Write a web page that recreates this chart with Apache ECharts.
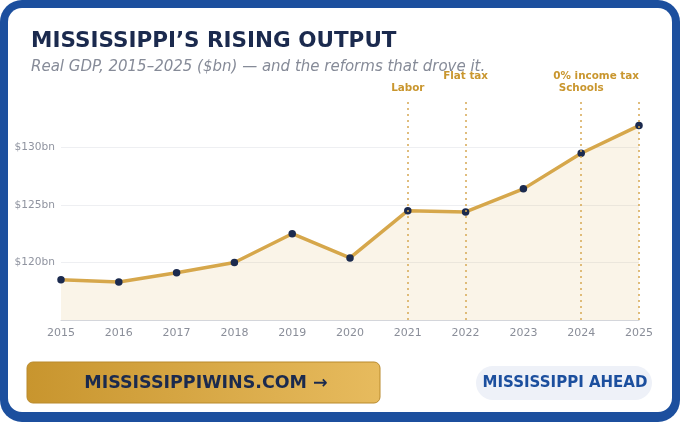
<!DOCTYPE html>
<html>
<head>
<meta charset="utf-8">
<script src="https://cdn.jsdelivr.net/npm/echarts@6/dist/echarts.min.js"></script>
<style>
html, body { margin: 0; padding: 0; background: #fff; }
#main { width: 680px; height: 422px; }
</style>
</head>
<body>
<div id="main"></div>
<script>
var years = ['2015', '2016', '2017', '2018', '2019', '2020', '2021', '2022', '2023', '2024', '2025'];
var gdp = [118.5, 118.3, 119.1, 120.0, 122.5, 120.4, 124.5, 124.4, 126.4, 129.5, 131.9];
var reformYears = ['2021', '2022', '2024', '2025'];
var reformNames = ['Labor', 'Flat tax', 'Schools', '0% income tax'];

var gold = '#d6a74b';
var navy = '#1b2a4e';
var blue = '#1c4f9e';

var chart = echarts.init(document.getElementById('main'));

var markData = [];
for (var i = 0; i < reformYears.length; i++) {
    var high = (i % 2 == 1);
    var lbl = {formatter: reformNames[i], distance: high ? 17 : 5};
    if (reformYears[i] == '2025') {
        lbl.align = 'right';
    }
    markData.push({xAxis: reformYears[i], label: lbl});
}

option = {
    animation: false,
    title: {
        left: 31,
        top: 30,
        padding: 0,
        text: 'MISSISSIPPI\u2019S RISING OUTPUT',
        subtext: 'Real GDP, 2015\u20132025 ($bn) \u2014 and the reforms that drove it.',
        itemGap: 8,
        textStyle: {
            fontFamily: 'DejaVu Sans',
            fontSize: 21.5,
            fontWeight: 'bold',
            color: navy
        },
        subtextStyle: {
            fontFamily: 'DejaVu Sans',
            fontSize: 15,
            fontStyle: 'italic',
            color: '#868b98'
        }
    },
    grid: {
        left: 61,
        right: 41,
        top: 98,
        bottom: 102,
        containLabel: false
    },
    xAxis: {
        type: 'category',
        data: years,
        boundaryGap: false,
        axisLine: {lineStyle: {color: '#d4d6db'}},
        axisTick: {show: false},
        axisLabel: {
            color: '#8a8e99',
            fontFamily: 'DejaVu Sans',
            fontSize: 11,
            margin: 8
        }
    },
    yAxis: {
        type: 'value',
        min: 115,
        max: 134.3,
        interval: 5,
        axisLine: {show: false},
        axisTick: {show: false},
        splitLine: {
            showMinLine: false,
            showMaxLine: false,
            lineStyle: {color: '#eeeff2'}
        },
        axisLabel: {
            color: '#9094a0',
            fontFamily: 'DejaVu Sans',
            fontSize: 10.6,
            margin: 6,
            showMinLabel: false,
            showMaxLabel: false,
            formatter: function (v) {
                return '$' + v + 'bn';
            }
        }
    },
    series: [
        {
            type: 'line',
            data: gdp,
            symbol: 'circle',
            symbolSize: 7.5,
            itemStyle: {color: navy},
            lineStyle: {color: gold, width: 3.5},
            areaStyle: {color: 'rgba(222, 178, 90, 0.2)'},
            z: 3,
            markLine: {
                silent: true,
                symbol: 'none',
                lineStyle: {color: '#d6a853', type: [2, 4], width: 1.5},
                label: {
                    position: 'end',
                    color: '#c9962e',
                    fontFamily: 'DejaVu Sans',
                    fontWeight: 'bold',
                    fontSize: 10.4
                },
                data: markData
            }
        }
    ],
    graphic: [
        {
            type: 'rect',
            z: -10,
            silent: true,
            shape: {x: 0, y: 0, width: 680, height: 422, r: 22},
            style: {fill: blue}
        },
        {
            type: 'rect',
            z: -9,
            silent: true,
            shape: {x: 8, y: 8, width: 664, height: 404, r: 14},
            style: {fill: '#ffffff'}
        },
        {
            type: 'rect',
            z: 10,
            silent: true,
            shape: {x: 27, y: 362, width: 353, height: 41, r: 6},
            style: {
                fill: new echarts.graphic.LinearGradient(0, 0, 1, 0, [
                    {offset: 0, color: '#c8952e'},
                    {offset: 1, color: '#e7bb5e'}
                ]),
                stroke: '#b98a2c',
                lineWidth: 1
            }
        },
        {
            type: 'text',
            z: 11,
            silent: true,
            x: 206,
            y: 383,
            style: {
                text: 'MISSISSIPPIWINS.COM \u2192',
                fill: navy,
                font: 'bold 17.5px "DejaVu Sans"',
                align: 'center',
                verticalAlign: 'middle'
            }
        },
        {
            type: 'rect',
            z: 10,
            silent: true,
            shape: {x: 476, y: 366, width: 176, height: 34, r: 17},
            style: {fill: '#eef1f8'}
        },
        {
            type: 'text',
            z: 11,
            silent: true,
            x: 565,
            y: 383,
            style: {
                text: 'MISSISSIPPI AHEAD',
                fill: blue,
                font: 'bold 15px "DejaVu Sans"',
                align: 'center',
                verticalAlign: 'middle'
            }
        }
    ]
};
chart.setOption(option);
</script>
</body>
</html>
